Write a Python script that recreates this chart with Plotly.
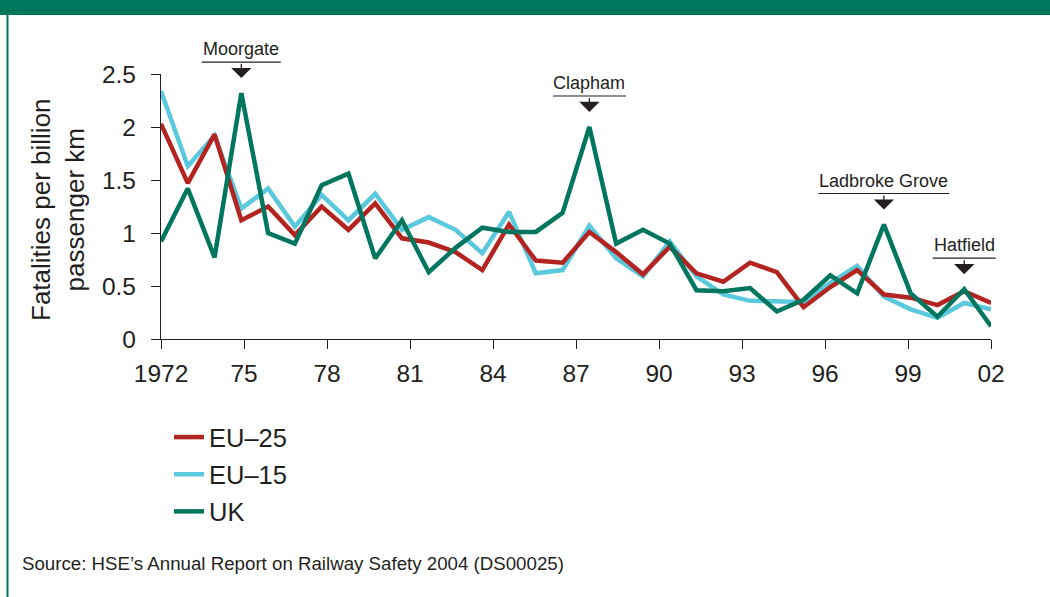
import plotly.graph_objects as go

# ---------------- data ----------------
YEARS = list(range(1972, 2004))
EU25 = [2.03, 1.47, 1.93, 1.12, 1.25, 0.98, 1.25, 1.03, 1.28, 0.95, 0.91, 0.82, 0.65, 1.08, 0.74, 0.72,
        1.01, 0.82, 0.61, 0.87, 0.62, 0.54, 0.72, 0.63, 0.30, 0.49, 0.65, 0.42, 0.39, 0.32, 0.45, 0.34]
EU15 = [2.34, 1.63, 1.92, 1.23, 1.42, 1.06, 1.36, 1.12, 1.37, 1.03, 1.15, 1.03, 0.81, 1.20, 0.62, 0.65,
        1.07, 0.76, 0.59, 0.92, 0.59, 0.42, 0.36, 0.35, 0.35, 0.53, 0.69, 0.40, 0.28, 0.20, 0.34, 0.28]
UK = [0.92, 1.42, 0.77, 2.32, 1.00, 0.90, 1.45, 1.56, 0.76, 1.12, 0.63, 0.86, 1.05, 1.01, 1.01, 1.19,
      2.00, 0.90, 1.03, 0.90, 0.46, 0.45, 0.48, 0.26, 0.37, 0.60, 0.43, 1.08, 0.43, 0.21, 0.47, 0.12]
X_TICK_LABELS = ["1972", "75", "78", "81", "84", "87", "90", "93", "96", "99", "02"]
Y_TICKS = [0, 0.5, 1, 1.5, 2, 2.5]
Y_TICK_LABELS = ["0", "0.5", "1", "1.5", "2", "2.5"]
EVENTS = ["Moorgate", "Clapham", "Ladbroke Grove", "Hatfield"]
EVENT_YEARS = [1975, 1988, 1999, 2002]

# ---------------- style ----------------
W, H = 1050, 597
ML, MR, MT, MB = 161, 59, 74, 258
PW, PH = W - ML - MR, H - MT - MB
FONT = "Liberation Sans, Arial, Helvetica, sans-serif"
TEXT = "#231f20"
RED = "#b3231f"
CYAN = "#5ac8dd"
GREEN = "#00765f"
YMAX = 2.5
XMIN, XMAX = YEARS[0], YEARS[-1]

def px_x(px):
    return (px - ML) / PW

def px_y(py):
    return (H - MB - py) / PH

def data_px_x(year):
    return ML + (year - XMIN) / (XMAX - XMIN) * PW

def data_px_y(v):
    return (H - MB) - v / YMAX * PH

fig = go.Figure()
series = [("EU–15", EU15, CYAN, 2), ("EU–25", EU25, RED, 1), ("UK", UK, GREEN, 3)]
for name, vals, col, rank in series:
    fig.add_trace(go.Scatter(
        x=YEARS, y=vals, name=name, mode="lines",
        line=dict(color=col, width=4.5),
        legendrank=rank, legendgroup=name,
        hoverinfo="x+y+name",
    ))

# tick positions spread evenly across the axis span, as in the source
n = len(X_TICK_LABELS) - 1
x_tickvals = [XMIN + k * (XMAX - XMIN) / n for k in range(n + 1)]

fig.update_layout(
    width=W, height=H,
    margin=dict(l=ML, r=MR, t=MT, b=MB, pad=0),
    paper_bgcolor="white", plot_bgcolor="white",
    font=dict(family=FONT, color=TEXT, size=24),
    showlegend=True,
    legend=dict(
        x=px_x(169), y=px_y(414), xanchor="left", yanchor="top",
        font=dict(size=25.5, color=TEXT, family=FONT),
        bgcolor="rgba(0,0,0,0)", borderwidth=0,
        traceorder="grouped", tracegroupgap=1,
    ),
    xaxis=dict(
        range=[XMIN, XMAX], tickmode="array", tickvals=x_tickvals, ticktext=X_TICK_LABELS,
        showline=True, linecolor=TEXT, linewidth=1.3, ticks="outside", ticklen=9, tickwidth=1.3,
        tickcolor=TEXT, showgrid=False, zeroline=False, tickfont=dict(size=24.5, color=TEXT),
        ticklabelstandoff=3,
    ),
    yaxis=dict(
        range=[0, YMAX], tickmode="array", tickvals=Y_TICKS, ticktext=Y_TICK_LABELS,
        showline=True, linecolor=TEXT, linewidth=1.3, ticks="outside", ticklen=9, tickwidth=1.3,
        tickcolor=TEXT, showgrid=False, zeroline=False, tickfont=dict(size=24.5, color=TEXT),
        ticklabelstandoff=10,
    ),
)

shapes = []
annotations = []

# top band and left rule
shapes.append(dict(type="rect", xref="paper", yref="paper",
                   x0=px_x(0), x1=px_x(W), y0=px_y(15), y1=px_y(0),
                   fillcolor=GREEN, line=dict(width=0), layer="above"))
shapes.append(dict(type="line", xref="paper", yref="paper",
                   x0=px_x(7.5), x1=px_x(7.5), y0=px_y(15), y1=px_y(H),
                   line=dict(color=GREEN, width=2)))

# event call-outs
UNDERLINE_W = [79, 73, 131, 63]
for label, yr, uw in zip(EVENTS, EVENT_YEARS, UNDERLINE_W):
    i = YEARS.index(yr)
    vx = data_px_x(yr)
    vy = data_px_y(UK[i])
    tip = vy - 15
    uline = tip - 16
    shapes.append(dict(type="line", xref="paper", yref="paper",
                       x0=px_x(vx - uw / 2), x1=px_x(vx + uw / 2),
                       y0=px_y(uline), y1=px_y(uline),
                       line=dict(color=TEXT, width=1.2)))
    annotations.append(dict(text=label, xref="paper", yref="paper",
                            x=px_x(vx), y=px_y(uline - 1), xanchor="center", yanchor="bottom",
                            showarrow=False, font=dict(size=18, color=TEXT, family=FONT)))
    annotations.append(dict(text=" ", xref="paper", yref="paper",
                            x=px_x(vx), y=px_y(tip), ax=0, ay=-16,
                            showarrow=True, arrowhead=1, arrowsize=2.6, arrowwidth=1.3,
                            arrowcolor=TEXT, font=dict(size=1)))

# y-axis title
annotations.append(dict(text="Fatalities per billion<br>passenger km", xref="paper", yref="paper",
                        x=px_x(58), y=px_y(210), xanchor="center", yanchor="middle",
                        textangle=-90, showarrow=False,
                        font=dict(size=26, color=TEXT, family=FONT)))

# source note
annotations.append(dict(text="Source: HSE’s Annual Report on Railway Safety 2004 (DS00025)",
                        xref="paper", yref="paper", x=px_x(20), y=px_y(563),
                        xanchor="left", yanchor="middle", showarrow=False,
                        font=dict(size=18.7, color=TEXT, family=FONT)))

fig.update_layout(shapes=shapes, annotations=annotations)

fig.write_html("out.html",
               config={"displayModeBar": False},
               post_script="document.body.style.margin='0';document.body.style.overflow='hidden';")
